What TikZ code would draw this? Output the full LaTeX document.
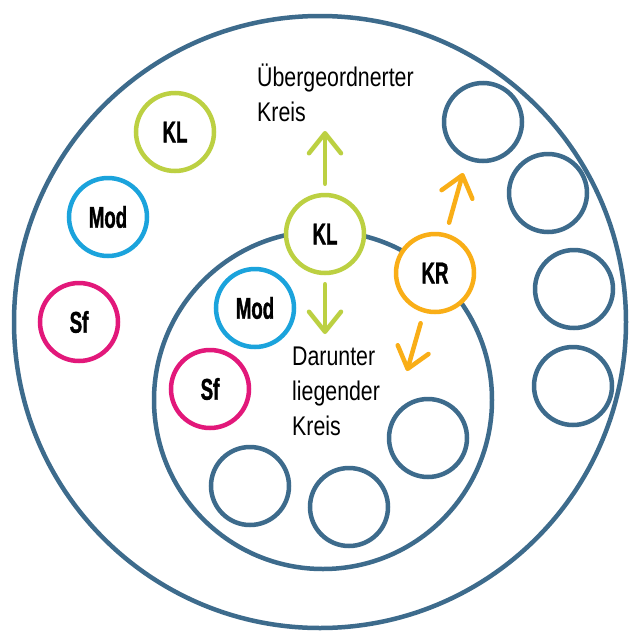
\documentclass[tikz,border=0pt]{standalone}
\usepackage{fontspec}
\setmainfont{Liberation Sans}
\newfontfamily\txtfont{Liberation Sans}[FakeStretch=0.79]
\newfontfamily\lblfont{Liberation Sans}[FakeStretch=0.62,FakeBold=1.2]
\usetikzlibrary{arrows.meta}
\definecolor{dkblue}{HTML}{3D6B8C}
\definecolor{klgreen}{HTML}{BCD042}
\definecolor{modcyan}{HTML}{1BA3DC}
\definecolor{sfmag}{HTML}{E2187A}
\definecolor{krorange}{HTML}{F9AE17}
\tikzset{
  ring/.style={circle, draw=dkblue, line width=4.5pt, inner sep=0pt},
  small/.style={circle, line width=4.5pt, inner sep=0pt, minimum size=78pt,
    fill=white, font=\lblfont\bfseries\fontsize{30}{32}\selectfont, text=black},
  kl/.style={small, draw=klgreen},
  mod/.style={small, draw=modcyan},
  sf/.style={small, draw=sfmag},
  kr/.style={small, draw=krorange},
  blank/.style={small, draw=dkblue},
  arr/.style={line width=4.5pt, line cap=round, line join=round,
    -{Straight Barb[length=20pt,width=32pt,line cap=round,line join=round]}},
  caption/.style={font=\txtfont\fontsize{27}{35}\selectfont, align=left,
    anchor=north west, inner sep=0pt, text=black}
}
\begin{document}
\begin{tikzpicture}[x=1pt,y=-1pt]
\useasboundingbox (0,0) rectangle (629,635);
\fill[white] (0,0) rectangle (629,635);
% big rings
\node[ring, minimum size=612pt] (outer) at (320,322) {};
\node[ring, minimum size=338pt] (inner) at (323,400) {};
% outer-level circles
\node[kl]  (klA)  at (175,132) {KL};
\node[mod] (modA) at (108,217) {Mod};
\node[sf]  (sfA)  at (79,322)  {Sf};
\node[blank] (b1) at (483,122) {};
\node[blank] (b2) at (548,193) {};
\node[blank] (b3) at (574,289) {};
\node[blank] (b4) at (573,386) {};
% inner-level circles
\node[blank] (b5) at (428,438) {};
\node[blank] (b6) at (349,507) {};
\node[blank] (b7) at (250,486) {};
\node[mod] (modB) at (255,308) {Mod};
\node[sf]  (sfB)  at (210,389) {Sf};
\node[kl]  (klB)  at (325,234) {KL};
\node[kr]  (krB)  at (435,273) {KR};
% arrows
\coordinate (upTip)   at (325,131);
\coordinate (downTip) at (325,334);
\coordinate (orUp)    at (463,173);
\coordinate (orDown)  at (407,371);
\draw[arr, draw=klgreen, shorten <=9pt] (klB) -- (upTip);
\draw[arr, draw=klgreen, shorten <=9pt] (klB) -- (downTip);
\draw[arr, draw=krorange, shorten <=11pt] (krB) -- (orUp);
\draw[arr, draw=krorange, shorten <=11pt] (krB) -- (orDown);
% captions
\node[caption] (capUp) at (257,64) {Übergeordnerter\\Kreis};
\node[caption] (capDown) at (292,347) {Darunter\\liegender\\Kreis};
\end{tikzpicture}
\end{document}
